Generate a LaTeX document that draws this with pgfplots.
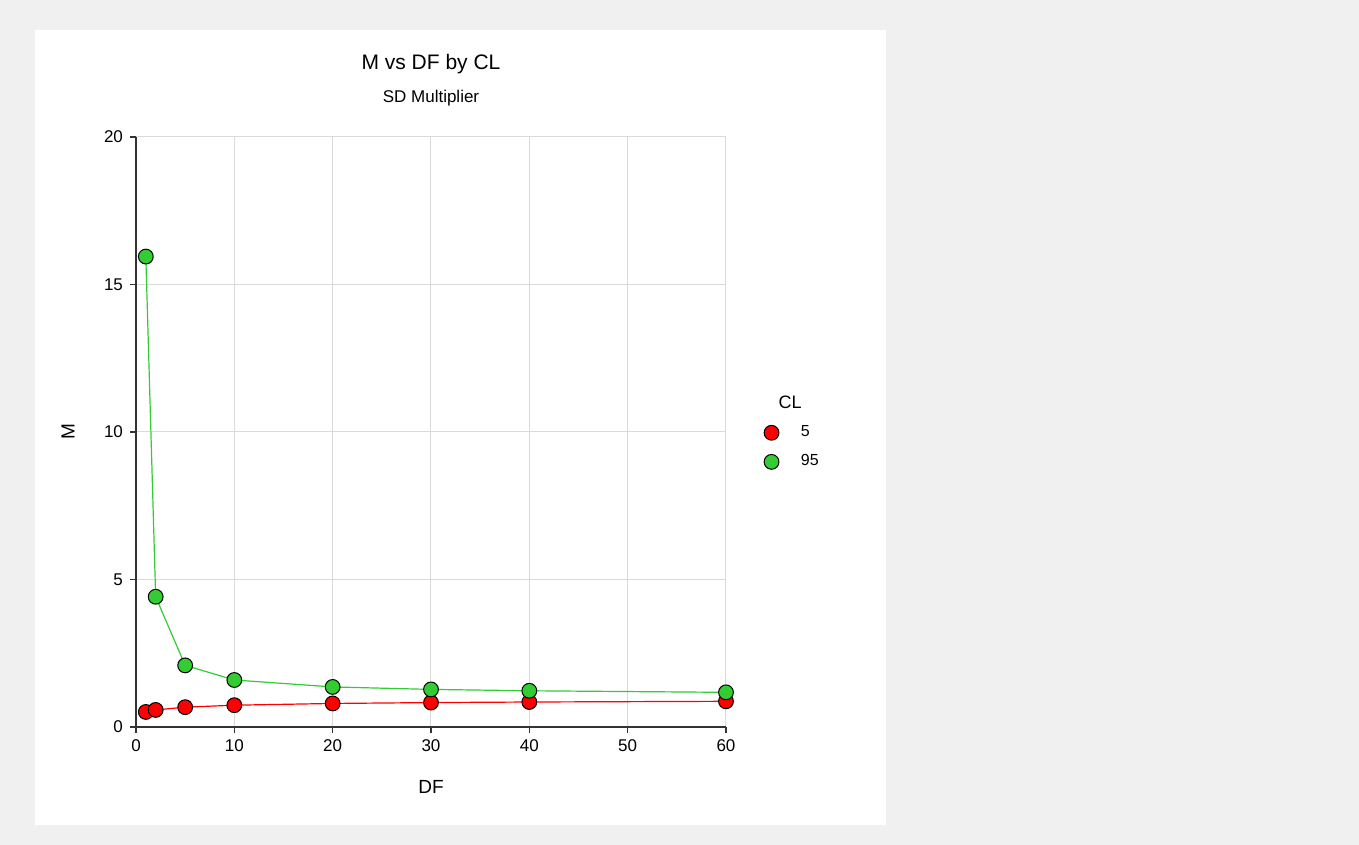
\documentclass[border=0pt]{standalone}
\usepackage{pgfplots}
\pgfplotsset{compat=1.18}
\usepackage{fontspec}
\setmainfont{Liberation Sans}
\definecolor{bggray}{HTML}{F0F0F0}
\definecolor{gridgray}{HTML}{DADADA}
\definecolor{axisdark}{HTML}{333333}
\definecolor{mgreen}{HTML}{33CC33}
\definecolor{mred}{HTML}{FF0000}
\begin{document}
\begin{tikzpicture}
\fill[bggray] (-68pt,-59pt) rectangle (611.5pt,363.5pt);
\fill[white] (-50.5pt,-49pt) rectangle (375pt,348.5pt);
\begin{axis}[
  at={(0pt,0pt)}, anchor=south west,
  scale only axis, width=295pt, height=295pt,
  xmin=0, xmax=60, ymin=0, ymax=20,
  xtick={0,10,...,60}, ytick={0,5,...,20},
  axis x line*=bottom, axis y line*=left,
  axis line style={axisdark, line width=0.75pt, -},
  tick style={axisdark, line width=0.6pt},
  tick align=outside, major tick length=3pt,
  grid=major, grid style={gridgray, line width=0.5pt},
  /pgf/number format/assume math mode=true,
  ticklabel style={font=\fontsize{8.5}{10}\selectfont, text=black},
  legend style={draw=none, fill=none, at={(1.064,0.518)}, anchor=north west,
    font=\fontsize{8}{10}\selectfont, row sep=3.5pt, inner sep=0pt,
    /tikz/every odd column/.append style={column sep=9pt}},
  legend cell align=left,
  legend image code/.code={\draw[#1] plot coordinates {(0.15cm,0cm)};},
  clip=false,
]
\addplot[mred, line width=0.6pt, mark=*, mark size=3.7pt, mark options={fill=mred, draw=black, line width=0.5pt}]
  coordinates {(1,0.510) (2,0.578) (5,0.672) (10,0.739) (20,0.798) (30,0.828) (40,0.847) (60,0.871)};
\addlegendentry{5}
\addplot[mgreen, line width=0.6pt, mark=*, mark size=3.7pt, mark options={fill=mgreen, draw=black, line width=0.5pt}]
  coordinates {(1,15.947) (2,4.415) (5,2.089) (10,1.593) (20,1.358) (30,1.274) (40,1.228) (60,1.175)};
\addlegendentry{95}
\node[font=\fontsize{9}{11}\selectfont] at (rel axis cs:1.1085,0.5) [yshift=14.75pt] {CL};
\node[font=\fontsize{10.5}{12}\selectfont] at (rel axis cs:0.5,1) [yshift=36.5pt] {M vs DF by CL};
\node[font=\fontsize{8.5}{10}\selectfont] at (rel axis cs:0.5,1) [yshift=19.5pt] {SD Multiplier};
\node[font=\fontsize{9.5}{11}\selectfont] at (rel axis cs:0.5,0) [yshift=-30pt] {DF};
\node[font=\fontsize{9.5}{11}\selectfont, xshift=-34pt, rotate=90] at (rel axis cs:0,0.5) {M};
\end{axis}
\end{tikzpicture}
\end{document}
